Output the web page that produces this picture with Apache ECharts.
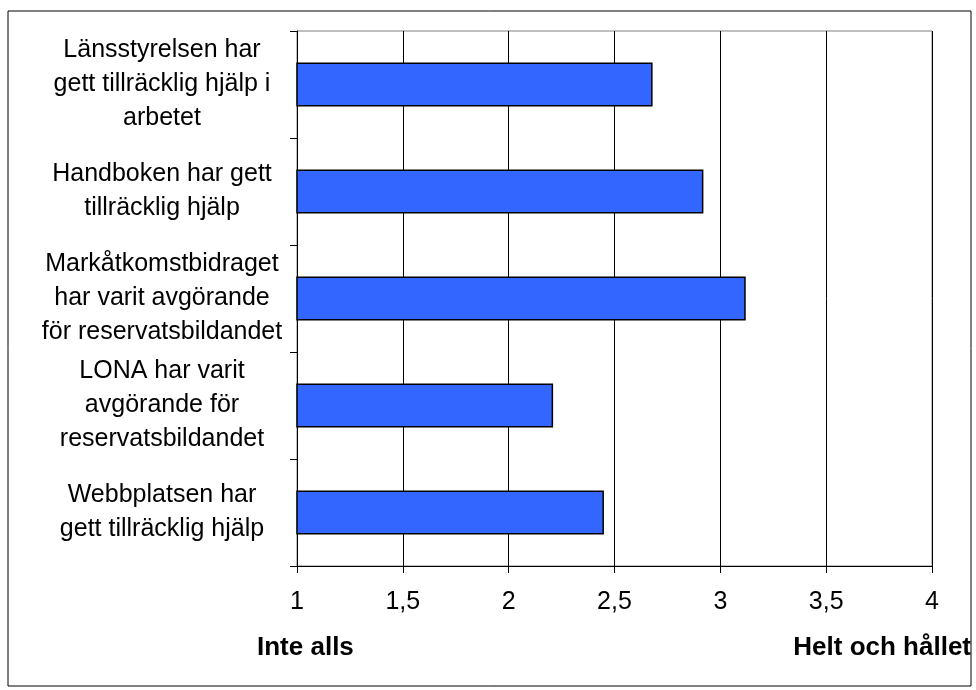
<!DOCTYPE html>
<html>
<head>
<meta charset="utf-8">
<script src="https://cdn.jsdelivr.net/npm/echarts@6/dist/echarts.min.js"></script>
<style>
html,body{margin:0;padding:0;background:#fff;}
#chart{width:976px;height:690px;}
</style>
</head>
<body>
<div id="chart"></div>
<script>
const categories = [
  "Länsstyrelsen har\ngett tillräcklig hjälp i\narbetet",
  "Handboken har gett\ntillräcklig hjälp",
  "Markåtkomstbidraget\nhar varit avgörande\nför reservatsbildandet",
  "LONA har varit\navgörande för\nreservatsbildandet",
  "Webbplatsen har\ngett tillräcklig hjälp"
];
const values = [2.68, 2.92, 3.12, 2.21, 2.45];
const axisMin = 1;
const axisMax = 4;
const axisStep = 0.5;
const leftEndLabel = "Inte alls";
const rightEndLabel = "Helt och hållet";

const FONT = "'Liberation Sans', Arial, sans-serif";
const chart = echarts.init(document.getElementById('chart'), null, {renderer: 'canvas'});
chart.setOption({
  backgroundColor: '#fff',
  animation: false,
  grid: {
    left: 297, right: 44, top: 31, bottom: 124,
    show: true, borderColor: '#808080', borderWidth: 1, backgroundColor: 'transparent'
  },
  xAxis: {
    type: 'value',
    min: axisMin, max: axisMax, interval: axisStep,
    axisLine: {show: true, lineStyle: {color: '#000', width: 1}},
    axisTick: {show: true, length: 7, lineStyle: {color: '#000', width: 1}},
    splitLine: {show: true, lineStyle: {color: '#000', width: 1}},
    axisLabel: {
      color: '#000', fontFamily: FONT, fontSize: 25, margin: 24,
      formatter: v => String(v).replace('.', ',')
    }
  },
  yAxis: {
    type: 'category',
    data: categories,
    inverse: true,
    axisLine: {show: true, lineStyle: {color: '#000', width: 1}},
    axisTick: {show: true, length: 7, lineStyle: {color: '#000', width: 1}},
    splitLine: {show: false},
    axisLabel: {
      color: '#000', fontFamily: FONT, fontSize: 25, lineHeight: 34,
      align: 'center', margin: 135, interval: 0
    }
  },
  series: [{
    type: 'bar',
    data: values,
    barCategoryGap: '59%',
    itemStyle: {color: '#3366FF', borderColor: '#000', borderWidth: 1.5},
    emphasis: {disabled: true}
  }],
  graphic: [
    {type: 'rect', shape: {x: 8, y: 11, width: 963, height: 675}, style: {fill: 'none', stroke: '#000', lineWidth: 1}, z: 100},
    {type: 'text', x: 257, y: 648, style: {text: leftEndLabel, font: "bold 26px 'Liberation Sans', Arial, sans-serif", fill: '#000', textAlign: 'left', textVerticalAlign: 'middle'}},
    {type: 'text', x: 971, y: 648, style: {text: rightEndLabel, font: "bold 26px 'Liberation Sans', Arial, sans-serif", fill: '#000', textAlign: 'right', textVerticalAlign: 'middle'}}
  ]
});
</script>
</body>
</html>
